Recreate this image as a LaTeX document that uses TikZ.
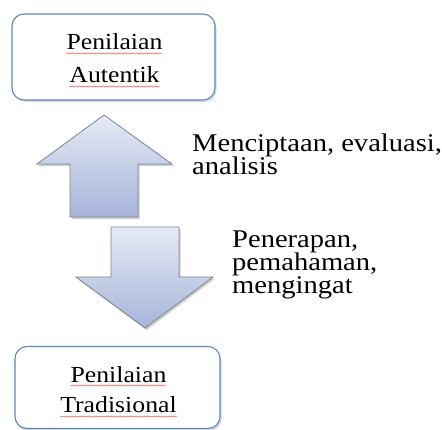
\documentclass[tikz,border=0pt]{standalone}
\usepackage{fontspec}
\setmainfont{Liberation Serif}[FakeStretch=1.12]
\usetikzlibrary{decorations.pathmorphing}
\definecolor{boxblue}{HTML}{5A86C2}
\definecolor{arrtop}{HTML}{E6EAF5}
\definecolor{arrbot}{HTML}{A6B4D9}
\definecolor{arredge}{HTML}{7E8591}
\begin{document}
\begin{tikzpicture}[x=1pt,y=-1pt,
  boxstyle/.style={draw=boxblue, line width=1.1pt, rounded corners=12pt, fill=white, inner sep=0pt},
  shadowstyle/.style={fill=black, opacity=0.15, rounded corners=12pt},
  arrowedge/.style={draw=arredge, line width=0.8pt, line join=miter},
  arrowshadow/.style={fill=black, opacity=0.2},
  boxtext/.style={font=\fontsize{23}{23}\selectfont, anchor=base, inner sep=0pt},
  sidetext/.style={font=\fontsize{25.5}{23}\selectfont, anchor=base west, inner sep=0pt},
  squiggle/.style={draw=red!75, line width=0.35pt, decorate, decoration={snake, amplitude=0.6pt, segment length=2.4pt}}
]
\useasboundingbox (0,0) rectangle (442,430);

% top box
\fill[shadowstyle] (13.5,16.5) rectangle (216.5,102);
\node[boxstyle, minimum width=203pt, minimum height=86pt] (auth) at (113.5,57) {};
\node[boxtext] (authA) at (114.5,50) {Penilaian};
\node[boxtext] (authB) at (114.5,83) {Autentik};
\draw[squiggle] ([yshift=-3.5pt]authA.base west) -- ([yshift=-3.5pt]authA.base east);
\draw[squiggle] ([yshift=-3.5pt]authB.base west) -- ([yshift=-3.5pt]authB.base east);

% up arrow
\fill[arrowshadow, shift={(1.5,2)}] (104,115) -- (172,164) -- (138,164) -- (138,217) -- (70,217) -- (70,164) -- (37,164) -- cycle;
\begin{scope}
  \clip (104,115) -- (172,164) -- (138,164) -- (138,217) -- (70,217) -- (70,164) -- (37,164) -- cycle;
  \foreach \i in {0,...,51} {
    \pgfmathsetmacro{\pc}{100-\i*100/51}
    \fill[arrtop!\pc!arrbot] (30,{115+\i*2}) rectangle (180,{117.6+\i*2});
  }
\end{scope}
\draw[arrowedge] (104,115) -- (172,164) -- (138,164) -- (138,217) -- (70,217) -- (70,164) -- (37,164) -- cycle;

% down arrow
\fill[arrowshadow, shift={(1.5,2)}] (111,227) -- (179,227) -- (179,277) -- (213,277) -- (145,328) -- (76,277) -- (111,277) -- cycle;
\begin{scope}
  \clip (111,227) -- (179,227) -- (179,277) -- (213,277) -- (145,328) -- (76,277) -- (111,277) -- cycle;
  \foreach \i in {0,...,51} {
    \pgfmathsetmacro{\pc}{100-\i*100/51}
    \fill[arrtop!\pc!arrbot] (70,{227+\i*2}) rectangle (220,{229.6+\i*2});
  }
\end{scope}
\draw[arrowedge] (111,227) -- (179,227) -- (179,277) -- (213,277) -- (145,328) -- (76,277) -- (111,277) -- cycle;

% side labels
\node[sidetext] (upA) at (192,152) {Menciptaan, evaluasi,};
\node[sidetext] (upB) at (192,175) {analisis};
\node[sidetext] (dnA) at (232,248) {Penerapan,};
\node[sidetext] (dnB) at (232,271) {pemahaman,};
\node[sidetext] (dnC) at (232,294) {mengingat};

% bottom box
\fill[shadowstyle] (16.5,348.5) rectangle (221.5,431);
\node[boxstyle, minimum width=205pt, minimum height=82pt] (trad) at (117.5,387.5) {};
\node[boxtext] (tradA) at (118.5,382) {Penilaian};
\node[boxtext] (tradB) at (118.5,413) {Tradisional};
\draw[squiggle] ([yshift=-3.5pt]tradA.base west) -- ([yshift=-3.5pt]tradA.base east);
\draw[squiggle] ([yshift=-3.5pt]tradB.base west) -- ([yshift=-3.5pt]tradB.base east);
\end{tikzpicture}
\end{document}
